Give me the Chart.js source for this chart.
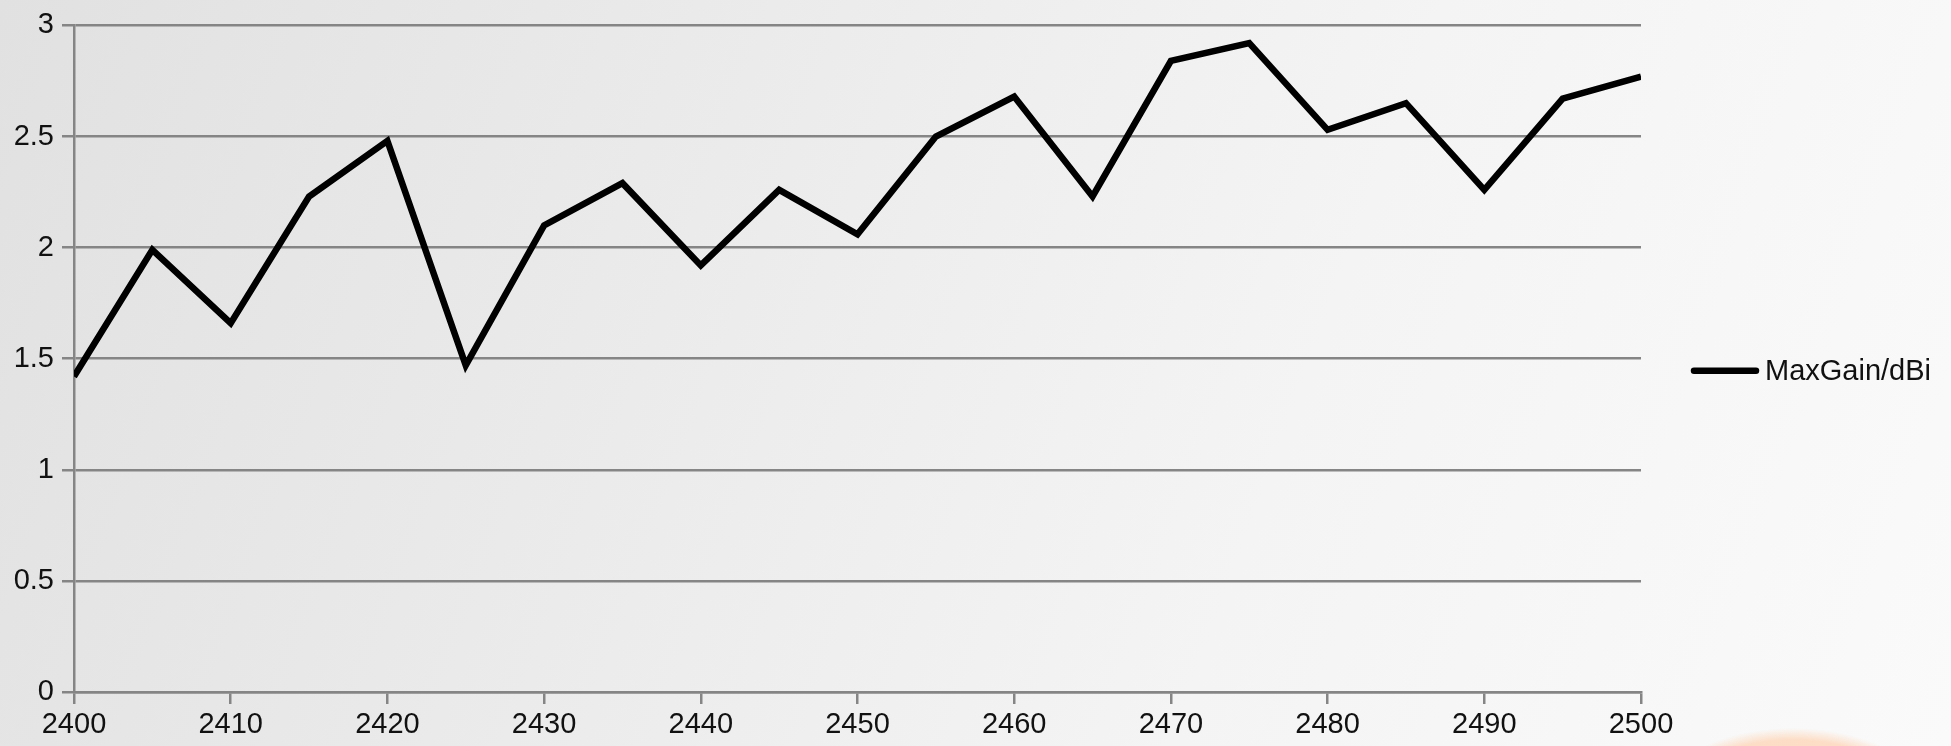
<!DOCTYPE html>
<html>
<head>
<meta charset="utf-8">
<script src="https://cdn.jsdelivr.net/npm/chart.js@4/dist/chart.umd.min.js"></script>
<style>
  html, body { margin: 0; padding: 0; }
  body {
    width: 1951px; height: 746px; overflow: hidden;
    background:
      radial-gradient(ellipse 140px 80px at 1793px 808px, rgba(253,214,186,0.95) 0%, rgba(253,218,192,0.9) 85%, rgba(253,225,205,0) 100%),
      linear-gradient(110deg, #e1e1e1 0%, #ebebeb 35%, #f4f4f4 65%, #fafafa 100%);
  }
  #wrap { position: absolute; left: 0; top: 0; width: 1951px; height: 746px; }
</style>
</head>
<body>
<div id="wrap"><canvas id="chart"></canvas></div>
<script>
// frequency (MHz) and measured max gain
var freqs = [2400, 2405, 2410, 2415, 2420, 2425, 2430, 2435, 2440, 2445, 2450,
             2455, 2460, 2465, 2470, 2475, 2480, 2485, 2490, 2495, 2500];
var gains = [1.42, 1.99, 1.66, 2.23, 2.48, 1.47, 2.10, 2.29, 1.92, 2.26, 2.06,
             2.50, 2.68, 2.23, 2.84, 2.92, 2.53, 2.65, 2.26, 2.67, 2.77];
var seriesName = 'MaxGain/dBi';
var xTicks = [2400, 2410, 2420, 2430, 2440, 2450, 2460, 2470, 2480, 2490, 2500];
var yTicks = [0, 0.5, 1, 1.5, 2, 2.5, 3];

var points = freqs.map(function(f, i) { return {x: f, y: gains[i]}; });

Chart.defaults.font.family = '"Liberation Sans", Arial, sans-serif';
Chart.defaults.font.size = 29;
Chart.defaults.color = '#111';

var gridColor = '#858585';

// legend drawn to the right of the plot, like the original office chart
var sideLegend = {
  id: 'sideLegend',
  afterDraw: function(chart) {
    var c = chart.ctx, area = chart.chartArea;
    var ds = chart.data.datasets[0];
    var y = (area.top + area.bottom) / 2 + 12;
    var x0 = area.right + 53;
    c.save();
    c.strokeStyle = ds.borderColor;
    c.lineWidth = ds.borderWidth;
    c.lineCap = 'round';
    c.beginPath();
    c.moveTo(x0, y);
    c.lineTo(x0 + 62, y);
    c.stroke();
    c.fillStyle = '#111';
    c.font = '29px "Liberation Sans", Arial, sans-serif';
    c.textBaseline = 'middle';
    c.fillText(ds.label, x0 + 71, y + 1);
    c.restore();
  }
};

var config = {
  type: 'line',
  data: {
    datasets: [{
      label: seriesName,
      data: points,
      borderColor: '#000',
      backgroundColor: '#000',
      borderWidth: 6.5,
      borderJoinStyle: 'miter',
      pointRadius: 0,
      tension: 0,
      fill: false
    }]
  },
  options: {
    responsive: true,
    maintainAspectRatio: false,
    animation: false,
    layout: { padding: { top: 19, right: 310, left: 0, bottom: 0 } },
    plugins: {
      tooltip: { enabled: false },
      legend: { display: false }
    },
    scales: {
      x: {
        type: 'linear',
        min: 2400,
        max: 2500,
        afterBuildTicks: function(axis) {
          axis.ticks = xTicks.map(function(v) { return {value: v}; });
        },
        afterFit: function(axis) { axis.height = 54; },
        ticks: {
          padding: 4, maxRotation: 0, autoSkip: false,
          callback: function(v) { return String(v); }
        },
        grid: { drawOnChartArea: false, drawTicks: true, tickLength: 12, color: gridColor, lineWidth: 2.5 },
        border: { color: gridColor, width: 2.5 }
      },
      y: {
        min: 0,
        max: 3,
        afterBuildTicks: function(axis) {
          axis.ticks = yTicks.map(function(v) { return {value: v}; });
        },
        afterFit: function(axis) { axis.width = 74; },
        ticks: {
          padding: 8,
          callback: function(v) { return String(v); }
        },
        grid: { color: gridColor, lineWidth: 2.5, tickLength: 12 },
        border: { color: gridColor, width: 2.5 }
      }
    }
  },
  plugins: [sideLegend]
};

var ctx = document.getElementById('chart').getContext('2d');
window.gainChart = new Chart(ctx, config);
</script>
</body>
</html>
